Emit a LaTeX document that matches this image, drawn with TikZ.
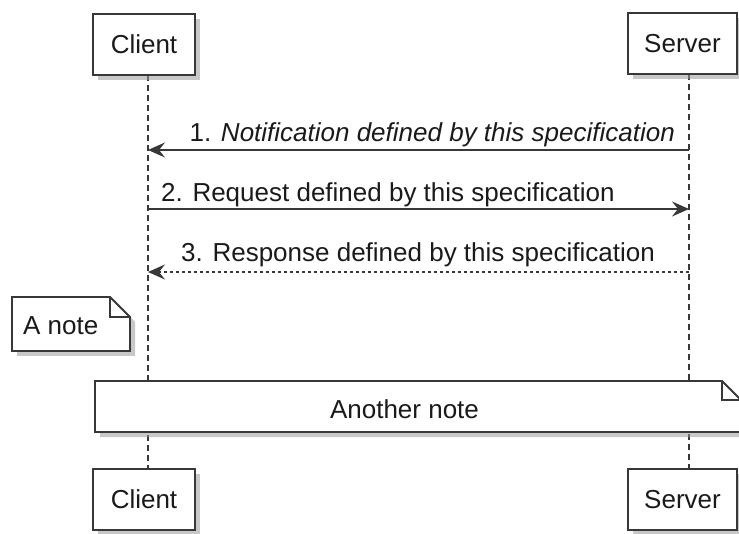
\documentclass[tikz,border=0pt]{standalone}
\usepackage{fontspec}
\setmainfont{Liberation Sans}
\usetikzlibrary{arrows.meta,shadows}
\definecolor{edge}{HTML}{383838}
\definecolor{txt}{HTML}{1A1A1A}
\definecolor{shade}{HTML}{9A9A9A}
\tikzset{
  actorbox/.style={draw=edge, line width=1.8pt, fill=white, minimum width=102pt, minimum height=61pt, inner sep=0pt, text=txt,
    font=\fontsize{26}{30}\selectfont,
    drop shadow={shadow xshift=5pt, shadow yshift=-5pt, fill=shade, opacity=0.55}},
  lifeline/.style={draw=edge, line width=1.1pt, dash pattern=on 6pt off 4pt},
  msg/.style={draw=edge, line width=1.5pt, -{Stealth[length=17pt,width=15pt,inset=6pt]}},
  msgdash/.style={msg, dash pattern=on 3pt off 3pt},
  msgtext/.style={inner sep=0pt, text=txt, font=\fontsize{26}{30}\selectfont},
  notebox/.style={draw=edge, line width=1.8pt, fill=white},
  noteshadow/.style={fill=shade, opacity=0.55},
}
\begin{document}
\begin{tikzpicture}[x=1pt,y=-1pt]
\useasboundingbox (0,0) rectangle (739,534);
% lifeline coordinates
\coordinate (ct) at (148,75);
\coordinate (cb) at (148,469);
\coordinate (st) at (689,74);
\coordinate (sb) at (689,469);
\draw[lifeline] (ct) -- (cb);
\draw[lifeline] (st) -- (sb);
% participants
\node[actorbox] (clientTop) at (144,44.5) {Client};
\node[actorbox, minimum width=109pt] (serverTop) at (682.5,43.5) {Server};
\node[actorbox] (clientBot) at (144,499.5) {Client};
\node[actorbox, minimum width=109pt] (serverBot) at (682.5,499.5) {Server};
% messages
\coordinate (s1) at (689,150); \coordinate (c1) at (148,150);
\coordinate (c2) at (148,209); \coordinate (s2) at (689,209);
\coordinate (s3) at (689,272); \coordinate (c3) at (148,272);
\draw[msg] (s1) -- (c1);
\draw[msg] (c2) -- (s2);
\draw[msgdash] (s3) -- (c3);
\node[msgtext, anchor=base east] (m1) at (675,142) {1. \textit{Notification defined by this specification}};
\node[msgtext, anchor=base west] (m2) at (161,202) {2. Request defined by this specification};
\node[msgtext, anchor=base east] (m3) at (655,262) {3. Response defined by this specification};
% note A
\fill[noteshadow] (17,302) -- (115,302) -- (135,322) -- (135,356) -- (17,356) -- cycle;
\draw[notebox] (12,297) -- (110,297) -- (130,317) -- (130,351) -- (12,351) -- cycle;
\draw[draw=edge, line width=1.8pt] (110,297) -- (110,317) -- (130,317);
\node[msgtext, anchor=base west] (noteA) at (23,335) {A note};
% note Another
\fill[noteshadow] (100,386) -- (727,386) -- (746,405) -- (746,437) -- (100,437) -- cycle;
\draw[notebox] (95,381) -- (722,381) -- (741,400) -- (741,432) -- (95,432) -- cycle;
\draw[draw=edge, line width=1.8pt] (722,381) -- (722,400) -- (741,400);
\node[msgtext, anchor=base] (noteB) at (404.5,418) {Another note};
\end{tikzpicture}
\end{document}
